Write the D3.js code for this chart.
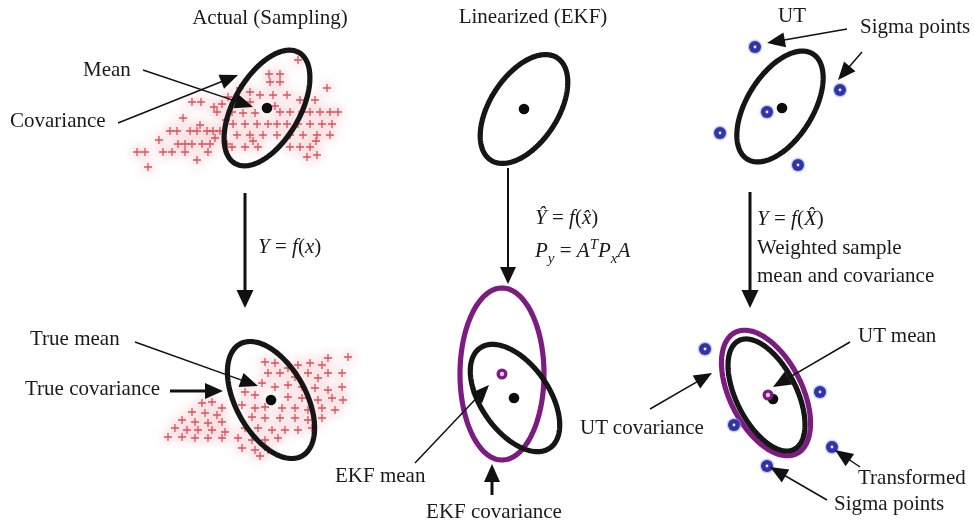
<!DOCTYPE html>
<html>
<head>
<meta charset="utf-8">
<script src="https://cdn.jsdelivr.net/npm/d3@7"></script>
<style>
  body { margin: 0; background: #fff; }
  text { font-family: "Liberation Serif", "Times New Roman", serif; font-size: 21px; fill: #1a1a1a; }
</style>
</head>
<body>
<svg id="fig" width="974" height="528"></svg>
<script>
// ---- values (panel-local units, y up, mean at 0,0) ----

// sampled points before / after the transform
var samplesPrior = [
  [-7.5,0.6],[-6.6,0.6],[-5.3,0.1],[-5.0,-0.4],[-4.5,0.4],[-6.7,-1.7],[-9.7,-2.3],[-9.0,-2.3],
  [-7.7,-2.3],[-7.0,-2.3],[-6.0,-2.3],[-5.4,-2.3],[-4.7,-2.3],[-8.9,-3.6],[-8.2,-3.6],[-7.5,-3.6],
  [-6.5,-3.6],[-5.7,-3.6],[-13.0,-4.4],[-12.2,-4.4],[-10.4,-4.4],[-9.5,-4.4],[-8.2,-4.4],[-7.0,-5.2],
  [-11.9,-5.9],[-5.9,-4.4],[-5.2,-3.0],[-4.0,-3.6],[-4.1,-1.2],[-3.9,1.1],
  [3.1,4.8],[0.2,3.4],[1.3,3.4],[0.3,2.6],[1.3,2.6],[6.0,2.0],[-2.7,2.0],[-1.7,1.6],[-0.7,1.3],
  [0.6,1.3],[2.0,1.3],[-3.5,-0.4],[-2.4,-0.5],[-1.2,-0.5],[1.3,-0.4],[2.3,-0.4],[3.5,-0.4],
  [4.3,-0.4],[5.3,-0.4],[6.3,-0.4],[7.1,-0.4],[-3.4,-1.6],[-2.2,-1.6],[-1.0,-1.6],[0.1,-1.6],
  [1.0,-1.6],[2.0,-1.6],[3.1,-1.6],[4.3,-1.6],[5.5,-1.6],[6.5,-1.6],[-3.0,-2.7],[-1.7,-2.7],
  [-0.4,-2.7],[1.0,-2.7],[2.3,-2.7],[3.6,-2.7],[5.0,-2.7],[6.3,-2.7],[-3.5,-3.9],[-2.2,-3.9],
  [-0.9,-3.9],[2.3,-3.9],[3.3,-3.9],[4.3,-3.9],[4.0,-4.9],[5.0,-4.7],[-1.7,0.6],[3.3,0.8],
  [4.8,0.8],[-2.7,0.8],[-8.4,-1.0],[-10.8,-3.2],[0.8,0.2],[-1.4,-3.3],[4.9,-3.3]
];
var samplesPosterior = [
  [-0.6,3.8],[0.4,3.7],[1.7,3.2],[2.7,3.5],[3.9,3.7],[5.1,3.5],[5.7,4.2],[7.7,4.3],
  [-0.3,2.7],[0.9,2.7],[2.4,2.3],[3.7,2.7],[4.7,2.2],[5.7,2.7],[7.1,2.7],
  [-0.9,1.7],[0.4,1.3],[1.7,1.5],[3.1,1.3],[4.4,1.2],[5.7,1.0],[7.1,1.3],
  [-2.6,0.8],[-1.6,0.5],[1.7,0.3],[3.1,0.2],[4.7,0.0],[6.1,0.2],[7.2,0.0],
  [-6.9,-0.3],[-5.9,-0.2],[-4.9,-0.8],[-2.9,-0.5],[-1.6,-0.8],[-0.6,-0.7],[1.1,-0.8],[2.4,-0.8],
  [3.7,-1.0],[5.1,-0.8],[6.4,-1.0],[-7.9,-1.2],[-6.6,-1.3],[-5.4,-1.5],
  [-8.9,-2.0],[-7.6,-2.2],[-6.3,-2.3],[-4.9,-2.2],[-1.9,-1.7],[-0.6,-1.8],[0.9,-1.8],[2.4,-1.8],
  [3.7,-2.0],[5.1,-1.8],[-9.6,-2.8],[-8.4,-3.0],[-7.3,-3.0],[-5.9,-3.0],[-4.6,-3.2],
  [-2.6,-2.8],[-1.3,-2.8],[0.1,-3.0],[1.4,-3.0],[2.7,-3.0],[4.1,-2.8],
  [-10.3,-3.7],[-8.9,-3.7],[-7.6,-3.8],[-6.3,-3.8],[-4.9,-3.8],[-3.3,-3.8],[-1.9,-4.0],[-0.6,-4.0],
  [0.7,-3.8],[-2.9,-4.8],[-1.6,-5.0],[-0.3,-5.0],[-1.1,-5.6]
];

// sigma points before / after the transform
var sigmaPrior = [[-2.5,6.0],[6.0,1.7],[-1.3,-0.5],[-6.0,-2.6],[1.8,-5.8]];
var sigmaPosterior = [[-6.1,4.4],[5.4,0.1],[-3.2,-3.2],[6.6,-5.4],[0.1,-7.3]];

// covariance ellipses: panel, centre, semi-axes, tilt (deg)
var ellipseKind   = ["true", "ekf", "ut", "true", "ekfOut", "true", "utOut", "true"];
var ellipsePanel  = ["tl", "tm", "tr", "bl", "bm", "bm", "br", "br"];
var ellipseCentre = [[0,0],[0,0],[0,0.05],[0,0],[0,0],[1.3,-2.4],[0,0],[0.05,-0.2]];
var ellipseAxes   = [[6.4,3.3],[6.1,3.4],[6.2,3.3],[6.4,3.5],[8.6,4.2],[6.1,3.4],[6.8,3.6],[6.1,3.0]];
var ellipseTilt   = [60, 57, 58, -61, 90, -55, -63, -63];

// means
var meanKind  = ["true", "true", "true", "true", "true", "ekf", "true", "ut"];
var meanPanel = ["tl", "tm", "tr", "bl", "bm", "bm", "br", "br"];
var meanAt    = [[0,0],[0,0],[0.2,-0.1],[0,0],[1.2,-2.4],[0,0],[0.7,-0.6],[0.2,-0.2]];

// text
var titles = ["Actual (Sampling)", "Linearized (EKF)", "UT"];
var labelTexts = ["Mean", "Covariance", "True mean", "True covariance", "EKF mean",
  "EKF covariance", "Sigma points", "Weighted sample", "mean and covariance",
  "UT mean", "UT covariance", "Transformed", "Sigma points"];

// ---- layout ----
var W = 974, H = 528, unit = 10;
var centre = { tl: [267,108], tm: [524,109], tr: [780,107], bl: [271,400], bm: [502,374], br: [766,393] };
var panels = {};
Object.keys(centre).forEach(function(k) {
  panels[k] = {
    x: d3.scaleLinear().domain([0, 1]).range([centre[k][0], centre[k][0] + unit]),
    y: d3.scaleLinear().domain([0, 1]).range([centre[k][1], centre[k][1] - unit])
  };
});

var titleAt = [["tl",[0.3,8.4]], ["tm",[0.9,8.6]], ["tr",[1.2,8.5]]];
// [panel, position, anchor]
var labelAt = [
  ["tl",[-18.4,3.2],"start"], ["tl",[-25.7,-1.9],"start"], ["bl",[-24.1,5.5],"start"],
  ["bl",[-24.6,0.5],"start"], ["bm",[-16.7,-10.8],"start"], ["bm",[-0.8,-14.4],"middle"],
  ["tr",[8.0,7.4],"start"], ["tr",[-2.3,-14.7],"start"], ["tr",[-2.3,-17.5],"start"],
  ["br",[9.2,5.1],"start"], ["br",[-18.6,-4.1],"start"], ["br",[9.2,-9.1],"start"],
  ["br",[6.8,-11.7],"start"]
];
// formulas: segments [text, italic, shift(0 / "sub" / "sup")]
var formulas = [
  ["tl", [-0.9,-14.5], [["Y",1],[" = ",0],["f",1],["(",0],["x",1],[")",0]]],
  ["tm", [1.1,-11.5], [["Y\u0302",1],[" = ",0],["f",1],["(",0],["x\u0302",1],[")",0]]],
  ["tm", [1.1,-14.8], [["P",1],["y",1,"sub"],[" = ",0],["A",1],["T",1,"sup"],["P",1],["x",1,"sub"],["A",1]]],
  ["tr", [-2.3,-11.8], [["Y",1],[" = ",0],["f",1],["(",0],["X\u0302",1],[")",0]]]
];
// arrows: panel, from, to, style
var arrows = [
  ["tl",[-12.4,3.8],[-1.4,0.1],"thin"], ["tl",[-14.9,-1.5],[-2.9,3.3],"thin"],
  ["tl",[-2.2,-8.5],[-2.2,-20.0],"thick"],
  ["bl",[-13.6,5.8],[-1.3,1.4],"thin"], ["bl",[-10.1,0.9],[-4.8,0.9],"bold"],
  ["tm",[-1.6,-5.9],[-1.6,-17.5],"mid"],
  ["bm",[-8.7,-8.9],[-1.3,-1.1],"thin"], ["bm",[-1.0,-12.1],[-1.0,-9.0],"bold"],
  ["tr",[6.7,7.8],[-1.3,6.4],"thin"], ["tr",[8.2,5.5],[5.8,2.7],"thin"],
  ["tr",[-3.0,-8.5],[-3.0,-20.1],"thick"],
  ["br",[8.4,5.1],[0.7,0.6],"thin"], ["br",[-11.6,-1.6],[-5.4,2.0],"thin"],
  ["br",[9.4,-7.4],[6.9,-5.7],"thin"], ["br",[6.1,-10.7],[0.4,-7.4],"thin"]
];

var strokeOf = { "true": "#121212", ekf: "#121212", ut: "#121212", ekfOut: "#7b1c80", utOut: "#7b1c80" };
var arrowStyle = {
  thin:  { w: 1.5, hl: 18, hw: 7.5 },
  mid:   { w: 2,   hl: 17, hw: 8 },
  bold:  { w: 3,   hl: 18, hw: 8 },
  thick: { w: 3,   hl: 18, hw: 8.5 }
};

var svg = d3.select("#fig");
var defs = svg.append("defs");
defs.append("filter").attr("id", "haze").attr("x", "-20%").attr("y", "-20%").attr("width", "140%").attr("height", "140%")
  .append("feGaussianBlur").attr("stdDeviation", 4);
defs.append("filter").attr("id", "soft")
  .append("feGaussianBlur").attr("stdDeviation", 0.6);

function px(p, d) { return [panels[p].x(d[0]), panels[p].y(d[1])]; }

// ---- sample clouds ----
function cloud(p, data) {
  var g = svg.append("g");
  g.append("g").attr("filter", "url(#haze)").selectAll("circle")
    .data(data).enter().append("circle")
    .attr("cx", function(d) { return px(p, d)[0]; })
    .attr("cy", function(d) { return px(p, d)[1]; })
    .attr("r", 7).attr("fill", "#f5c4c8").attr("opacity", 0.4);
  g.append("g").selectAll("path")
    .data(data).enter().append("path")
    .attr("d", function(d) {
      var c = px(p, d), s = 4;
      return "M" + (c[0] - s) + "," + c[1] + "h" + (2 * s) + "M" + c[0] + "," + (c[1] - s) + "v" + (2 * s);
    })
    .attr("stroke", "#d83642").attr("stroke-width", 1.3).attr("opacity", 0.85);
}
cloud("tl", samplesPrior);
cloud("bl", samplesPosterior);

// ---- ellipses ----
var line = d3.line().curve(d3.curveLinearClosed);
var ellG = svg.append("g").attr("filter", "url(#soft)");
ellipseKind.forEach(function(kind, i) {
  var p = ellipsePanel[i], c = ellipseCentre[i], a = ellipseAxes[i][0], b = ellipseAxes[i][1];
  var th = ellipseTilt[i] * Math.PI / 180;
  var pts = d3.range(0, 360, 2).map(function(deg) {
    var t = deg * Math.PI / 180;
    var u = a * Math.cos(t), v = b * Math.sin(t);
    return px(p, [c[0] + u * Math.cos(th) - v * Math.sin(th), c[1] + u * Math.sin(th) + v * Math.cos(th)]);
  });
  ellG.append("path").attr("d", line(pts)).attr("fill", "none")
    .attr("stroke", strokeOf[kind]).attr("stroke-width", 5.2);
});

// ---- means ----
var meanG = svg.append("g").attr("filter", "url(#soft)");
meanKind.forEach(function(kind, i) {
  var c = px(meanPanel[i], meanAt[i]);
  if (kind === "true") {
    meanG.append("circle").attr("cx", c[0]).attr("cy", c[1]).attr("r", 5.3).attr("fill", "#111");
  } else {
    meanG.append("circle").attr("cx", c[0]).attr("cy", c[1]).attr("r", 5.5).attr("fill", "#7b1c80");
    meanG.append("circle").attr("cx", c[0]).attr("cy", c[1]).attr("r", 2.2).attr("fill", "#f1c8ee");
  }
});

// ---- sigma points ----
function sigma(p, data) {
  var g = svg.append("g");
  var s = g.selectAll("g").data(data).enter().append("g")
    .attr("transform", function(d) { var c = px(p, d); return "translate(" + c[0] + "," + c[1] + ")"; });
  s.append("circle").attr("r", 7.4).attr("fill", "#9c9ee0").attr("opacity", 0.5);
  s.append("circle").attr("r", 6).attr("fill", "#2f35a8");
  s.append("circle").attr("r", 1.4).attr("fill", "#e8ecff");
}
sigma("tr", sigmaPrior);
sigma("br", sigmaPosterior);

// ---- arrows ----
var arrG = svg.append("g");
arrows.forEach(function(a) {
  var st = arrowStyle[a[3]];
  var f = px(a[0], a[1]), t = px(a[0], a[2]);
  var dx = t[0] - f[0], dy = t[1] - f[1], L = Math.hypot(dx, dy), ux = dx / L, uy = dy / L;
  var bx = t[0] - ux * st.hl, by = t[1] - uy * st.hl;
  arrG.append("line").attr("x1", f[0]).attr("y1", f[1]).attr("x2", bx + ux * 2).attr("y2", by + uy * 2)
    .attr("stroke", "#111").attr("stroke-width", st.w);
  arrG.append("path")
    .attr("d", "M" + t[0] + "," + t[1] + "L" + (bx - uy * st.hw) + "," + (by + ux * st.hw) +
      "L" + (bx + uy * st.hw) + "," + (by - ux * st.hw) + "Z")
    .attr("fill", "#111");
});

// ---- text ----
titles.forEach(function(t, i) {
  var c = px(titleAt[i][0], titleAt[i][1]);
  svg.append("text").attr("x", c[0]).attr("y", c[1]).attr("text-anchor", "middle").text(t);
});
labelTexts.forEach(function(t, i) {
  var c = px(labelAt[i][0], labelAt[i][1]);
  svg.append("text").attr("x", c[0]).attr("y", c[1]).attr("text-anchor", labelAt[i][2]).text(t);
});
formulas.forEach(function(fm) {
  var c = px(fm[0], fm[1]);
  var txt = svg.append("text").attr("x", c[0]).attr("y", c[1]);
  var shift = 0;
  fm[2].forEach(function(seg) {
    var want = seg[2] === "sub" ? 6 : seg[2] === "sup" ? -8 : 0;
    txt.append("tspan")
      .attr("dy", want - shift)
      .style("font-style", seg[1] ? "italic" : "normal")
      .style("font-size", seg[2] ? "15px" : null)
      .text(seg[0]);
    shift = want;
  });
});
</script>
</body>
</html>
